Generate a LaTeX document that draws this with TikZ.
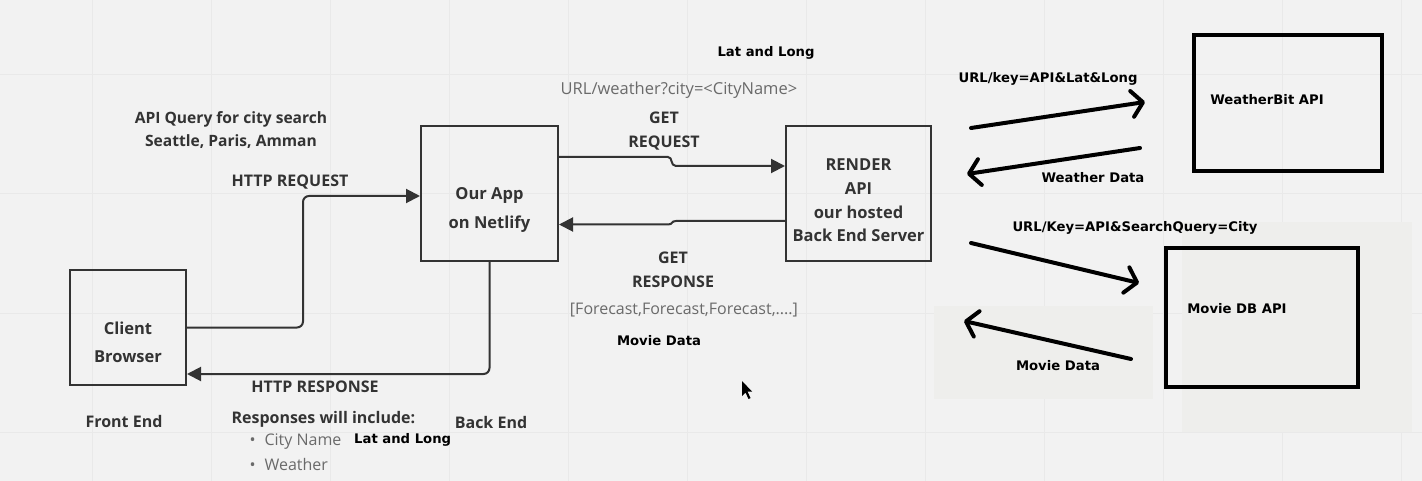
\documentclass[tikz,border=0pt]{standalone}
\usepackage{fontspec}
\setmainfont{Open Sans}
\newfontfamily\paintfont{DejaVu Sans}
\usetikzlibrary{arrows.meta,calc}
\definecolor{bg}{HTML}{F2F2F2}
\definecolor{gridc}{HTML}{E9E9E9}
\definecolor{patch}{HTML}{EEEEEC}
\definecolor{ink}{HTML}{333333}
\definecolor{soft}{HTML}{6A6A6A}
\tikzset{
    box/.style={draw=ink, line width=2pt},
    boxtext/.style={align=center, font=\bfseries\fontsize{16.5}{23.7}\selectfont, text=ink},
    apibox/.style={draw=black, line width=4.5pt},
    label/.style={font=\bfseries\fontsize{16}{23.5}\selectfont, text=ink, align=center},
    grey/.style={font=\fontsize{16}{19}\selectfont, text=soft},
    paint/.style={font=\paintfont\bfseries\fontsize{13.2}{16}\selectfont, text=black, inner sep=0pt},
    flow/.style={draw=ink, line width=2pt, rounded corners=6pt, -{Triangle[length=14pt,width=14pt]}},
    pen/.style={draw=black, line width=4pt, line cap=round, -{Straight Barb[length=11pt,width=26pt,line width=4pt,round]}}
}
\begin{document}
\begin{tikzpicture}[x=1pt, y=-1pt]
    % canvas
    \fill[bg] (0,0) rectangle (1422,481);
    \useasboundingbox (0,0) rectangle (1422,481);
    \foreach \gx in {-27,92,211,330,449,568,687,806,925,1044,1163,1282,1401}
        \draw[gridc, line width=1pt] (\gx,0) -- (\gx,481);
    \foreach \gy in {75,194,313,432}
        \draw[gridc, line width=1pt] (0,\gy) -- (1422,\gy);
    \fill[patch] (934,306) rectangle (1153,399);
    \fill[patch] (1182,222) rectangle (1412,432);

    % boxes
    \node[box, minimum width=116, minimum height=115] (client) at (128,327.5) {};
    \node[boxtext, font=\bfseries\fontsize{16.5}{28.5}\selectfont] (clientt) at (128,342.5) {Client\\Browser};
    \node[box, minimum width=137, minimum height=135] (app) at (489.5,193.5) {};
    \node[boxtext, font=\bfseries\fontsize{16.5}{29.5}\selectfont] (appt) at (489.5,210) {Our App\\on Netlify};
    \node[box, minimum width=145, minimum height=135] (render) at (858.5,193.5) {};
    \node[boxtext] (rendert) at (858.5,200.5) {RENDER\\API\\our hosted\\Back End Server};
    \node[apibox, minimum width=188, minimum height=136] (weather) at (1288,103) {};
    \node[paint] (weathert) at (1267,100) {WeatherBit API};
    \node[apibox, minimum width=192, minimum height=139] (movie) at (1262,317.5) {};
    \node[paint] (moviet) at (1237,309) {Movie DB API};

    % front end side
    \node[label, font=\bfseries\fontsize{15.6}{23}\selectfont] (query) at (231,130) {API Query for city search\\Seattle, Paris, Amman};
    \node[label] (httpreq) at (290,182) {HTTP REQUEST};
    \node[label] (httpres) at (315,387) {HTTP RESPONSE};
    \node[label] (front) at (124,421) {Front End};
    \node[label] (back) at (491,422) {Back End};
    \node[label, anchor=west] (incl) at (228,419) {Responses will include:};
    \node[grey, anchor=west] (city) at (246,442) {\textbullet\hspace{9pt}City Name};
    \node[grey, anchor=west] (wx) at (246,464) {\textbullet\hspace{9pt}Weather};
    \node[paint, anchor=west] (latlong) at (354,440) {Lat and Long};

    \draw[flow] (client.east) -- (303,327.5) |- ([yshift=-2.5pt]app.west);
    \draw[flow] (app.south) |- ($(client.south east)+(0,-12)$);

    % app to render
    \node[paint] (latlongtop) at (766,53) {Lat and Long};
    \node[grey, font=\fontsize{16.5}{19}\selectfont] (urlw) at (679,90) {URL/weather?city=<CityName>};
    \node[label] (getreq) at (664,131) {GET\\REQUEST};
    \node[label] (getres) at (673,270) {GET\\RESPONSE};
    \node[grey] (fcast) at (684,310) {[Forecast,Forecast,Forecast,....]};
    \node[paint] (moviedata) at (659,341) {Movie Data};

    \draw[flow, rounded corners=0pt] ([yshift=36.5pt]app.east) -- (668,157)
        .. controls (673,157) and (670,166) .. (676,166) -- ([yshift=27.5pt]render.west);
    \draw[flow, rounded corners=0pt] ([yshift=-27.5pt]render.west) -- (676,221)
        .. controls (671,221) and (673,224.5) .. (668,224.5) -- ([yshift=-31pt]app.east);

    % render to outside apis
    \coordinate (wgo) at (971,128);
    \coordinate (wat) at (1145,102);
    \coordinate (wfrom) at (1140,148);
    \coordinate (wback) at (967,174);
    \coordinate (mgo) at (971,243);
    \coordinate (mat) at (1139,283);
    \coordinate (mfrom) at (1131,359);
    \coordinate (mback) at (964,321);
    \node[paint] (wkey) at (1048,79) {URL/key=API\&Lat\&Long};
    \node[paint] (wdata) at (1093,178) {Weather Data};
    \node[paint] (mkey) at (1135,228) {URL/Key=API\&SearchQuery=City};
    \node[paint] (mdata) at (1058,366) {Movie Data};
    \draw[pen] (wgo) -- (wat);
    \draw[pen] (wfrom) -- (wback);
    \draw[pen] (mgo) -- (mat);
    \draw[pen] (mfrom) -- (mback);

    % pointer
    \fill[black] (742,381) -- (742,396) -- (745.5,392.5) -- (748.5,399) -- (750.5,398) -- (747.5,391.5) -- (752,391.5) -- cycle;
\end{tikzpicture}
\end{document}
